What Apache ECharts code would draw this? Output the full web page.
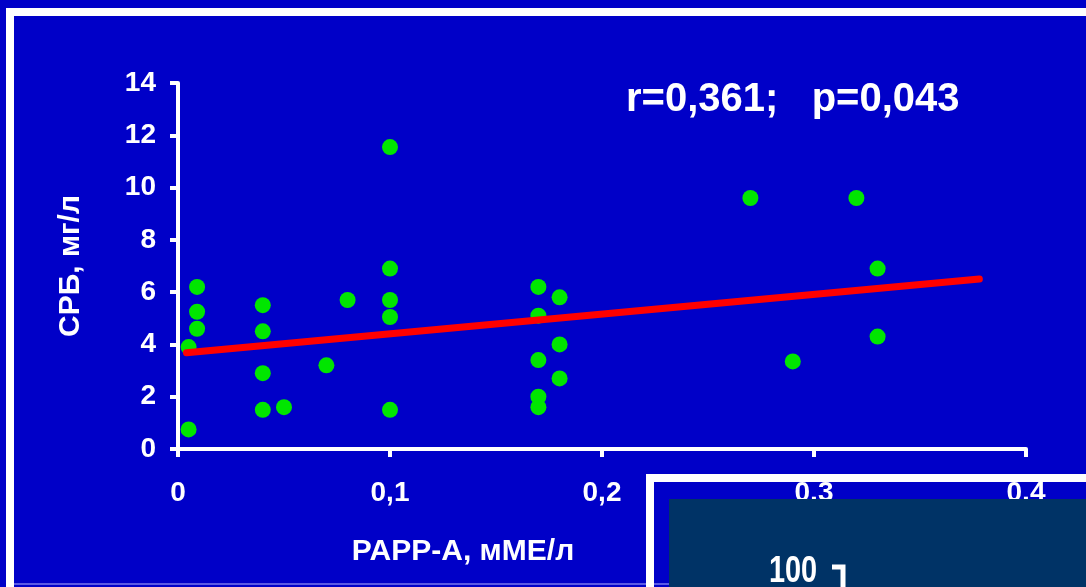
<!DOCTYPE html>
<html>
<head>
<meta charset="utf-8">
<script src="https://cdn.jsdelivr.net/npm/echarts@6/dist/echarts.min.js"></script>
<style>
html,body{margin:0;padding:0;background:#0000c8;}
#c{width:1086px;height:587px;}
</style>
</head>
<body>
<div id="c"></div>
<script>
// PAPP-A (mIU/L) values
const pappA = [0.009, 0.009, 0.009, 0.005, 0.005,
  0.04, 0.04, 0.04, 0.04, 0.05, 0.07, 0.08,
  0.1, 0.1, 0.1, 0.1, 0.1,
  0.17, 0.17, 0.17, 0.17, 0.17,
  0.18, 0.18, 0.18,
  0.27, 0.29, 0.32, 0.33, 0.33];
// CRP (mg/L) values
const crp = [6.2, 5.25, 4.6, 3.9, 0.75,
  5.5, 4.5, 2.9, 1.5, 1.6, 3.2, 5.7,
  11.55, 6.9, 5.7, 5.05, 1.5,
  6.2, 5.1, 3.4, 2.0, 1.6,
  5.8, 4.0, 2.7,
  9.6, 3.35, 9.6, 6.9, 4.3];
// regression line end points
const trendX = [0.004, 0.378];
const trendY = [3.68, 6.5];
const xTicks = ['0', '0,1', '0,2', '0,3', '0,4'];
const yTicks = ['0', '2', '4', '6', '8', '10', '12', '14'];
const statText = 'r=0,361;   p=0,043';
const xName = 'PAPP-A, мМЕ/л';
const yName = 'СРБ, мг/л';
const insetLabel = '100';

const chart = echarts.init(document.getElementById('c'), null, {renderer: 'canvas'});
const FONT = '"Liberation Sans", Arial, sans-serif';
const points = pappA.map((x, i) => [x, crp[i]]);
const trend = trendX.map((x, i) => [x, trendY[i]]);

chart.setOption({
  backgroundColor: '#0000c8',
  animation: false,
  grid: {left: 178, right: 60, top: 83, bottom: 138, containLabel: false},
  xAxis: {
    type: 'value', min: 0, max: 0.4, interval: 0.1,
    axisLine: {show: true, onZero: false, lineStyle: {color: '#ffffff', width: 4}},
    axisTick: {show: true, length: 8, lineStyle: {color: '#ffffff', width: 4}},
    splitLine: {show: false},
    axisLabel: {color: '#ffffff', fontFamily: FONT, fontWeight: 'bold', fontSize: 28, margin: 30,
      formatter: (v) => xTicks[Math.round(v * 10)]},
    name: xName, nameLocation: 'middle', nameGap: 88,
    nameTextStyle: {color: '#ffffff', fontFamily: FONT, fontWeight: 'bold', fontSize: 30, padding: [0, 278, 0, 0]}
  },
  yAxis: {
    type: 'value', min: 0, max: 14, interval: 2,
    axisLine: {show: true, onZero: false, lineStyle: {color: '#ffffff', width: 4}},
    axisTick: {show: true, length: 8, lineStyle: {color: '#ffffff', width: 4}},
    splitLine: {show: false},
    axisLabel: {color: '#ffffff', fontFamily: FONT, fontWeight: 'bold', fontSize: 28, margin: 22,
      formatter: (v) => yTicks[Math.round(v / 2)]},
    name: yName, nameLocation: 'middle', nameGap: 92, nameRotate: 90,
    nameTextStyle: {color: '#ffffff', fontFamily: FONT, fontWeight: 'bold', fontSize: 30}
  },
  series: [
    {type: 'line', data: trend, symbol: 'none', z: 3,
      lineStyle: {color: '#ff0000', width: 7, cap: 'round'}},
    {type: 'scatter', data: points, symbol: 'circle', symbolSize: 16, z: 2,
      itemStyle: {color: '#00e600', opacity: 1}}
  ],
  graphic: [
    // outer white frame
    {type: 'rect', z: 50, shape: {x: 6, y: 8, width: 8, height: 579}, style: {fill: '#ffffff'}},
    {type: 'rect', z: 50, shape: {x: 6, y: 8, width: 1080, height: 8}, style: {fill: '#ffffff'}},
    {type: 'rect', z: 50, shape: {x: 14, y: 583, width: 1072, height: 2}, style: {fill: '#5a5ae6'}},
    // statistic text
    {type: 'text', z: 50, x: 626, y: 80,
      style: {text: statText, fill: '#ffffff', font: 'bold 40px ' + FONT}},
    // inset slide overlay (white frame bands + navy panel)
    {type: 'rect', z: 60, shape: {x: 646, y: 474, width: 8, height: 113}, style: {fill: '#ffffff'}},
    {type: 'rect', z: 60, shape: {x: 646, y: 474, width: 440, height: 8}, style: {fill: '#ffffff'}},
    {type: 'rect', z: 62, shape: {x: 669, y: 499, width: 417, height: 88}, style: {fill: '#003366'}},
    {type: 'text', z: 63, x: 769, y: 553, scaleX: 0.78, scaleY: 1,
      style: {text: insetLabel, fill: '#ffffff', font: 'bold 37px ' + FONT}},
    {type: 'polyline', z: 63, shape: {points: [[832, 567], [843, 567], [843, 590]]},
      style: {stroke: '#ffffff', lineWidth: 5, fill: null}}
  ]
});
</script>
</body>
</html>
